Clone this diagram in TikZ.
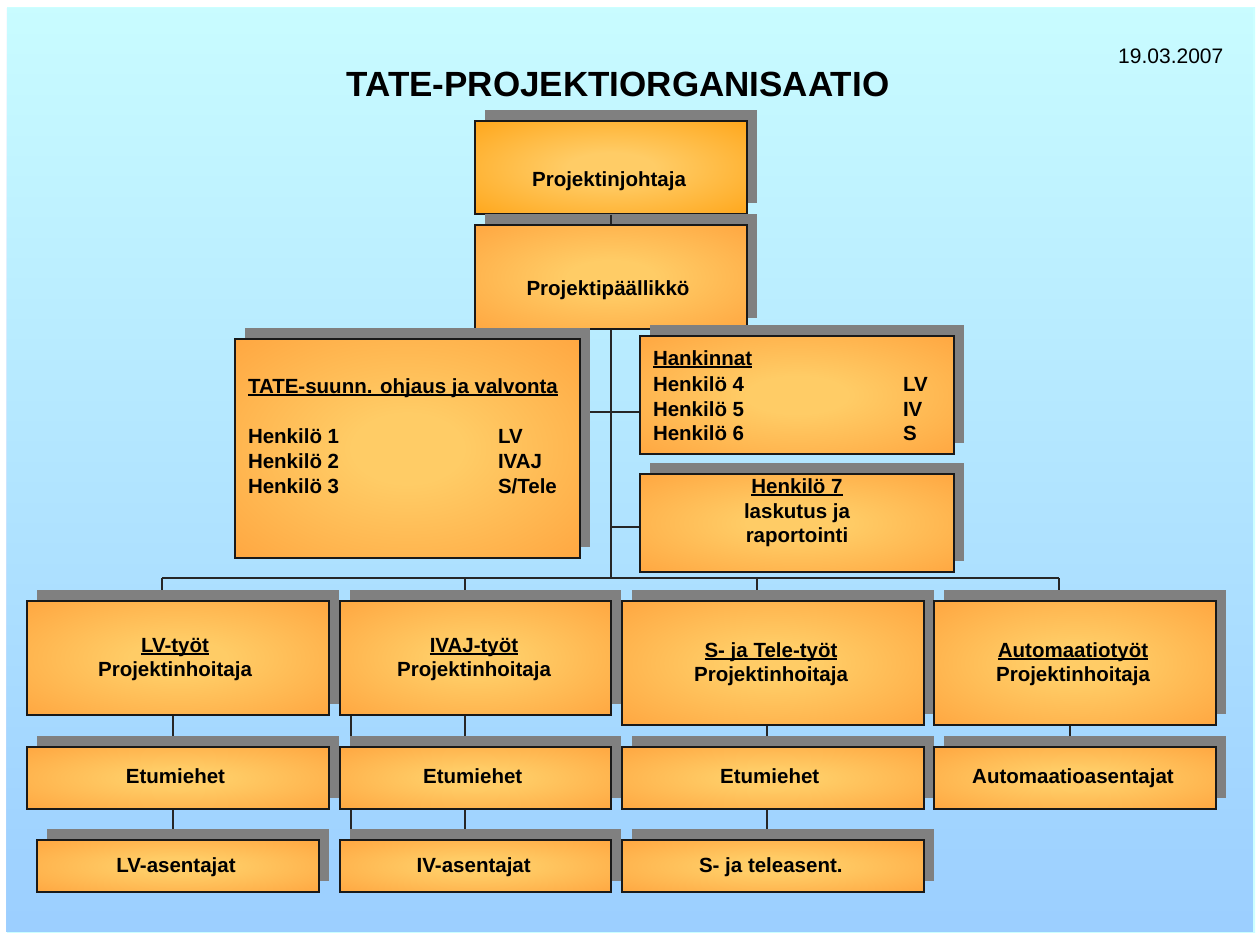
\documentclass[tikz,border=0pt]{standalone}
\usepackage{fontspec}
\setmainfont{Liberation Sans}
\usetikzlibrary{shadows,fadings}

\definecolor{bgcyan}{HTML}{CCFFFF}
\definecolor{bgblue}{HTML}{99CCFF}
\definecolor{boxin}{HTML}{FFCC66}
\definecolor{boxout}{HTML}{FF9933}
\definecolor{boxtop}{HTML}{FF9900}
\definecolor{shadowgray}{HTML}{808080}

\pgfdeclareradialshading{orangebox}{\pgfpoint{0bp}{0bp}}{color(0bp)=(boxin); color(8bp)=(boxin); color(46bp)=(boxout); color(72bp)=(boxout)}
\pgfdeclareradialshading{orangetop}{\pgfpoint{0bp}{0bp}}{color(0bp)=(boxin); color(8bp)=(boxin); color(46bp)=(boxtop); color(72bp)=(boxtop)}
\pgfdeclarehorizontalshading{bgh}{100bp}{color(0bp)=(bgblue); color(6bp)=(bgcyan); color(93bp)=(bgcyan); color(100bp)=(bgblue)}
\pgfdeclareverticalshading{vmaskshade}{100bp}{color(0bp)=(white); color(22bp)=(white); color(78bp)=(black); color(100bp)=(black)}
\pgfdeclarefading{vmask}{\pgfuseshading{vmaskshade}}

\pgfdeclarelayer{bg}
\pgfdeclarelayer{background}
\pgfsetlayers{bg,background,main}

\newcommand\ulx[1]{\setbox0=\hbox{#1}\rlap{\rule[-2.6pt]{\wd0}{1.5pt}}\box0}

\tikzset{
  box/.style={draw=black!90, line width=1.4pt, shading=orangebox, inner sep=0pt,
    general shadow={fill=shadowgray, shadow xshift=9.5pt, shadow yshift=11pt}},
  topbox/.style={box, shading=orangetop},
  txt/.style={inner sep=0pt, outer sep=0pt, font=\bfseries\fontsize{20.5}{24}\selectfont},
  conn/.style={draw=black!85, line width=1.3pt}
}

\begin{document}
\begin{tikzpicture}[x=1pt, y=-1pt]
\useasboundingbox (0,0) rectangle (1260,935);

% background
\begin{pgfonlayer}{bg}
  \fill[white] (0,0) rectangle (1260,935);
  \shade[shading=bgh] (7,7) rectangle (1255,932);
  \fill[bgblue, path fading=vmask, fit fading=true] (7,7) rectangle (1255,932);
\end{pgfonlayer}

% title and date
\node[inner sep=0pt, anchor=base, font=\bfseries\fontsize{35}{40}\selectfont] (title) at (618,96) {TATE-PROJEKTIORGANISAATIO};
\node[inner sep=0pt, anchor=base west, font=\fontsize{21}{24}\selectfont] (date) at (1118,63) {19.03.2007};

% boxes
\node[topbox, minimum width=272pt, minimum height=93pt] (pj) at (611,167.5) {};
\node[box, minimum width=272pt, minimum height=104pt] (pp) at (611,277) {};
\node[box, minimum width=345pt, minimum height=219pt] (tate) at (407.5,448.5) {};
\node[box, minimum width=314pt, minimum height=118pt] (hank) at (797,395) {};
\node[box, minimum width=314pt, minimum height=98pt] (h7) at (797,523) {};

\node[box, minimum width=302pt, minimum height=114pt] (lv) at (178,658) {};
\node[box, minimum width=271pt, minimum height=114pt] (ivaj) at (475.5,658) {};
\node[box, minimum width=302pt, minimum height=124pt] (st) at (773,663) {};
\node[box, minimum width=282pt, minimum height=124pt] (aut) at (1075,663) {};

\node[box, minimum width=302pt, minimum height=62pt] (lve) at (178,778) {};
\node[box, minimum width=271pt, minimum height=62pt] (ive) at (475.5,778) {};
\node[box, minimum width=302pt, minimum height=62pt] (ste) at (773,778) {};
\node[box, minimum width=282pt, minimum height=62pt] (auta) at (1075,778) {};

\node[box, minimum width=282pt, minimum height=52pt] (lva) at (178,866) {};
\node[box, minimum width=271pt, minimum height=52pt] (iva) at (475.5,866) {};
\node[box, minimum width=302pt, minimum height=52pt] (sta) at (773,866) {};

% texts
\node[txt, anchor=base] (tpj) at (609,186) {Projektinjohtaja};
\node[txt, anchor=base] (tpp) at (608,295) {Projektipäällikkö};

\node[txt, anchor=base west] (ttate) at (248,393) {\ulx{TATE-suunn. ohjaus ja valvonta}};
\node[txt, anchor=base west] (th1) at (248,443) {Henkilö 1};
\node[txt, anchor=base west] (th2) at (248,468) {Henkilö 2};
\node[txt, anchor=base west] (th3) at (248,493) {Henkilö 3};
\node[txt, anchor=base west] (tr1) at (498,443) {LV};
\node[txt, anchor=base west] (tr2) at (498,468) {IVAJ};
\node[txt, anchor=base west] (tr3) at (498,493) {S/Tele};

\node[txt, anchor=base west] (thank) at (653,365) {\ulx{Hankinnat}};
\node[txt, anchor=base west] (th4) at (653,391) {Henkilö 4};
\node[txt, anchor=base west] (th5) at (653,416) {Henkilö 5};
\node[txt, anchor=base west] (th6) at (653,440) {Henkilö 6};
\node[txt, anchor=base west] (tr4) at (903,391) {LV};
\node[txt, anchor=base west] (tr5) at (903,416) {IV};
\node[txt, anchor=base west] (tr6) at (903,440) {S};

\node[txt, anchor=base] (th7) at (797,493) {\ulx{Henkilö 7}};
\node[txt, anchor=base] (th7b) at (797,518) {laskutus ja};
\node[txt, anchor=base] (th7c) at (797,542) {raportointi};

\node[txt, anchor=base] (tlv) at (175,652) {\ulx{LV-työt}};
\node[txt, anchor=base] (tlvb) at (175,676) {Projektinhoitaja};
\node[txt, anchor=base] (tivaj) at (474,652) {\ulx{IVAJ-työt}};
\node[txt, anchor=base] (tivajb) at (474,676) {Projektinhoitaja};
\node[txt, anchor=base] (tst) at (771,657) {\ulx{S- ja Tele-työt}};
\node[txt, anchor=base] (tstb) at (771,681) {Projektinhoitaja};
\node[txt, anchor=base] (taut) at (1073,657) {\ulx{Automaatiotyöt}};
\node[txt, anchor=base] (tautb) at (1073,681) {Projektinhoitaja};

\node[txt, anchor=base] (tlve) at (175.5,783) {Etumiehet};
\node[txt, anchor=base] (tive) at (472.7,783) {Etumiehet};
\node[txt, anchor=base] (tste) at (769.7,783) {Etumiehet};
\node[txt, anchor=base] (tauta) at (1073,783) {Automaatioasentajat};

\node[txt, anchor=base] (tlva) at (176,872) {LV-asentajat};
\node[txt, anchor=base] (tiva) at (473.7,872) {IV-asentajat};
\node[txt, anchor=base] (tsta) at (770.8,872) {S- ja teleasent.};

% connectors
\coordinate (ybus) at (0,578);
\coordinate (busL) at (162,578);
\coordinate (bus2) at (465,578);
\coordinate (bus3) at (757,578);
\coordinate (busR) at (1059,578);
\coordinate (y412) at (0,412);
\coordinate (y527) at (0,527);
\coordinate (c1) at (173,0);
\coordinate (c2a) at (351,0);
\coordinate (c2b) at (465,0);
\coordinate (c3) at (767,0);
\coordinate (c4) at (1070,0);

\begin{pgfonlayer}{background}
  \draw[conn] (pp.south) -- (pp.south |- ybus);
  \draw[conn] (tate.east |- y412) -- (hank.west |- y412);
  \draw[conn] (pp.south |- y527) -- (h7.west |- y527);
  \draw[conn] (busL) -- (busR);
  \draw[conn] (busL) -- (busL |- lv.north);
  \draw[conn] (bus2) -- (bus2 |- ivaj.north);
  \draw[conn] (bus3) -- (bus3 |- st.north);
  \draw[conn] (busR) -- (busR |- aut.north);
  \draw[conn] (c1 |- lv.south) -- (c1 |- lve.north);
  \draw[conn] (c1 |- lve.south) -- (c1 |- lva.north);
  \draw[conn] (c2a |- ivaj.south) -- (c2a |- ive.north);
  \draw[conn] (c2a |- ive.south) -- (c2a |- iva.north);
  \draw[conn] (c2b |- ivaj.south) -- (c2b |- ive.north);
  \draw[conn] (c2b |- ive.south) -- (c2b |- iva.north);
  \draw[conn] (c3 |- st.south) -- (c3 |- ste.north);
  \draw[conn] (c3 |- ste.south) -- (c3 |- sta.north);
  \draw[conn] (c4 |- aut.south) -- (c4 |- auta.north);
\end{pgfonlayer}
\draw[conn] (pj.south) -- (pp.north);

\end{tikzpicture}
\end{document}
